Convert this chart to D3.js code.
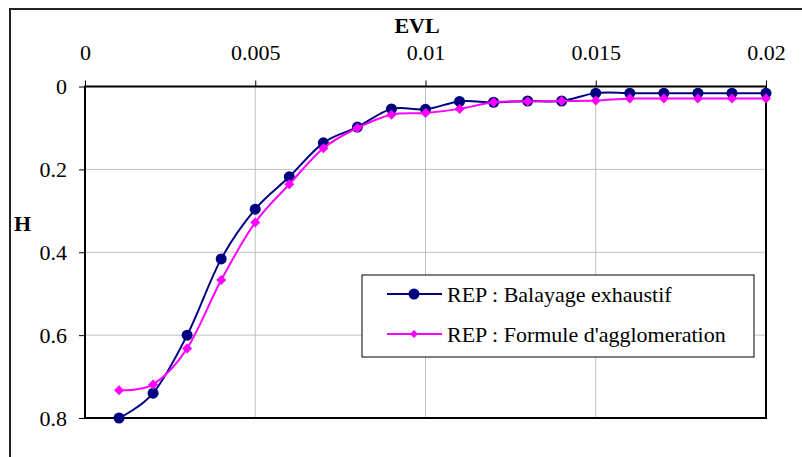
<!DOCTYPE html>
<html><head><meta charset="utf-8">
<script src="https://cdn.jsdelivr.net/npm/d3@7"></script>
<style>body{margin:0;background:#fff;} svg{display:block;} text{font-family:"Liberation Serif","Times New Roman",serif;}</style>
</head><body>
<svg id="c" width="802" height="457"></svg>
<script>
const evl = [0.001,0.002,0.003,0.004,0.005,0.006,0.007,0.008,0.009,0.010,0.011,0.012,0.013,0.014,0.015,0.016,0.017,0.018,0.019,0.020];
const balayage = [0.800,0.740,0.600,0.416,0.296,0.218,0.136,0.098,0.054,0.055,0.036,0.038,0.035,0.035,0.016,0.016,0.016,0.016,0.016,0.016];
const formule = [0.733,0.719,0.632,0.467,0.328,0.236,0.149,0.100,0.068,0.064,0.054,0.038,0.036,0.035,0.034,0.029,0.029,0.029,0.029,0.029];
const xTicks = [0,0.005,0.01,0.015,0.02];
const yTicks = [0,0.2,0.4,0.6,0.8];
const seriesNames = ["REP : Balayage exhaustif","REP : Formule d'agglomeration"];
const colors = ["#000080","#FF00FF"];

const svg = d3.select("#c");
const L=85,R=766,T=86.5,B=418;
const x = d3.scaleLinear().domain([0,0.02]).range([L,R]);
const y = d3.scaleLinear().domain([0,0.8]).range([T,B]);

// outer frame
svg.append("rect").attr("x",10).attr("y",9).attr("width",820).attr("height",480)
  .attr("fill","none").attr("stroke","#222").attr("stroke-width",2);

// gridlines
svg.append("g").selectAll("line").data(xTicks.slice(1,-1)).join("line")
  .attr("x1",d=>x(d)).attr("x2",d=>x(d)).attr("y1",T).attr("y2",B)
  .attr("stroke","#c0c0c0").attr("stroke-width",1);
svg.append("g").selectAll("line").data(yTicks.slice(1,-1)).join("line")
  .attr("y1",d=>y(d)).attr("y2",d=>y(d)).attr("x1",L).attr("x2",R)
  .attr("stroke","#c0c0c0").attr("stroke-width",1);

// axes
const xAxis = d3.axisTop(x).tickValues(xTicks).tickSize(6).tickPadding(21).tickFormat(d=>String(+d.toFixed(3)));
const gx = svg.append("g").attr("transform",`translate(0,${T})`).call(xAxis);
gx.select(".domain").remove();
gx.selectAll("line").attr("stroke","#000");
gx.selectAll("text").attr("font-size",22).attr("fill","#000").attr("font-family","Liberation Serif");

const yAxis = d3.axisLeft(y).tickValues(yTicks).tickSize(6).tickPadding(12).tickFormat(d=>String(+d.toFixed(1)));
const gy = svg.append("g").attr("transform",`translate(${L},0)`).call(yAxis);
gy.select(".domain").remove();
gy.selectAll("line").attr("stroke","#000");
gy.selectAll("text").attr("font-size",22).attr("fill","#000").attr("font-family","Liberation Serif");

// plot border
svg.append("rect").attr("x",L).attr("y",T).attr("width",R-L).attr("height",B-T)
  .attr("fill","none").attr("stroke","#000").attr("stroke-width",2);

// axis titles
svg.append("text").attr("x",417).attr("y",33).attr("text-anchor","middle")
  .attr("font-size",22).attr("font-weight","bold").text("EVL");
svg.append("text").attr("x",14).attr("y",231)
  .attr("font-size",22).attr("font-weight","bold").text("H");

// lines
const line = d3.line().x(d=>x(d[0])).y(d=>y(d[1])).curve(d3.curveCatmullRom.alpha(0));
const dataB = evl.map((e,i)=>[e,balayage[i]]);
const dataF = evl.map((e,i)=>[e,formule[i]]);
svg.append("path").datum(dataB).attr("d",line).attr("fill","none").attr("stroke",colors[0]).attr("stroke-width",2);
svg.append("g").selectAll("circle").data(dataB).join("circle")
  .attr("cx",d=>x(d[0])).attr("cy",d=>y(d[1])).attr("r",5.5).attr("fill",colors[0]);
svg.append("path").datum(dataF).attr("d",line).attr("fill","none").attr("stroke",colors[1]).attr("stroke-width",2);
const diamond = (cx,cy,s)=>`M${cx},${cy-s}L${cx+s},${cy}L${cx},${cy+s}L${cx-s},${cy}Z`;
svg.append("g").selectAll("path").data(dataF).join("path")
  .attr("d",d=>diamond(x(d[0]),y(d[1]),5)).attr("fill",colors[1]);

// legend
const lg = svg.append("g");
lg.append("rect").attr("x",362).attr("y",275).attr("width",392).attr("height",82)
  .attr("fill","#fff").attr("stroke","#000").attr("stroke-width",1);
const ly=[294,334];
seriesNames.forEach((n,i)=>{
  lg.append("line").attr("x1",387).attr("x2",442).attr("y1",ly[i]).attr("y2",ly[i]).attr("stroke",colors[i]).attr("stroke-width",2);
  if(i===0) lg.append("circle").attr("cx",414).attr("cy",ly[i]).attr("r",5.5).attr("fill",colors[i]);
  else lg.append("path").attr("d",diamond(414,ly[i],4)).attr("fill",colors[i]);
  lg.append("text").attr("x",447).attr("y",ly[i]+7.5).attr("font-size",22).text(n);
});
</script>
</body></html>
